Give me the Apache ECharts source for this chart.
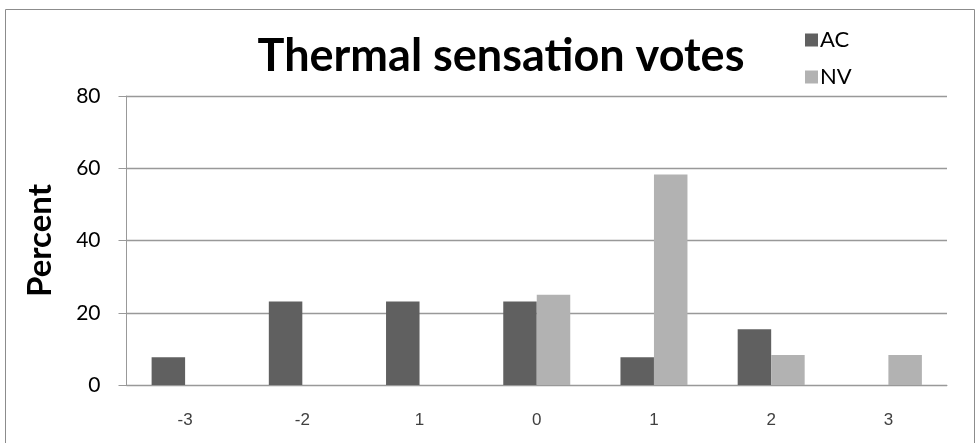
<!DOCTYPE html>
<html>
<head>
<meta charset="utf-8">
<script src="https://cdn.jsdelivr.net/npm/echarts@6/dist/echarts.min.js"></script>
<style>html,body{margin:0;padding:0;background:#fff}#c{width:979px;height:443px}</style>
</head>
<body>
<div id="c"></div>
<script>
const categories = ['-3', '-2', '1', '0', '1', '2', '3'];
const acValues = [7.7, 23.1, 23.1, 23.1, 7.7, 15.4, 0];
const nvValues = [0, 0, 0, 25, 58.3, 8.3, 8.3];
const yTicks = { min: 0, max: 80, interval: 20 };

const chart = echarts.init(document.getElementById('c'), null, { renderer: 'canvas' });
const option = {
  animation: false,
  backgroundColor: '#ffffff',
  graphic: [{
    type: 'rect', silent: true, z: -1,
    shape: { x: 5.5, y: 9.5, width: 969, height: 450 },
    style: { fill: 'none', stroke: '#8c8c8c', lineWidth: 1 }
  }],
  title: {
    text: 'Thermal sensation votes',
    left: 496, top: 29, textAlign: 'center',
    textStyle: { fontFamily: 'Lato', fontWeight: 'bold', fontSize: 45, color: '#000' }
  },
  legend: {
    orient: 'vertical', left: 800, top: 24,
    icon: 'rect', itemWidth: 13, itemHeight: 13, itemGap: 15,
    textStyle: { fontFamily: 'Lato', fontSize: 22, color: '#000', padding: [0, 0, 0, -3] },
    data: ['AC', 'NV']
  },
  grid: { left: 126.5, right: 32, top: 96, bottom: 58, containLabel: false },
  xAxis: {
    type: 'category', data: categories,
    axisLine: { show: true, lineStyle: { color: '#999999', width: 1 } },
    axisTick: { show: false },
    axisLabel: { margin: 27, fontFamily: 'Liberation Sans', fontSize: 17, color: '#404040' },
    z: 5
  },
  yAxis: {
    type: 'value', min: yTicks.min, max: yTicks.max, interval: yTicks.interval,
    name: 'Percent', nameLocation: 'middle', nameRotate: 90, nameGap: 70,
    nameTextStyle: { fontFamily: 'Lato', fontWeight: 'bold', fontSize: 33, color: '#000' },
    axisLine: { show: true, lineStyle: { color: '#999999', width: 1 } },
    axisTick: { show: true, length: 8, lineStyle: { color: '#999999' } },
    axisLabel: { margin: 26, fontFamily: 'Lato', fontSize: 21, color: '#000' },
    splitLine: { show: true, lineStyle: { color: '#999999', width: 1.3 } }
  },
  series: [
    { name: 'AC', type: 'bar', data: acValues, barWidth: 33.5, barGap: '0%',
      itemStyle: { color: '#606060' } },
    { name: 'NV', type: 'bar', data: nvValues, barWidth: 33.5, barGap: '0%',
      itemStyle: { color: '#b2b2b2' } }
  ]
};
chart.setOption(option);
</script>
</body>
</html>
